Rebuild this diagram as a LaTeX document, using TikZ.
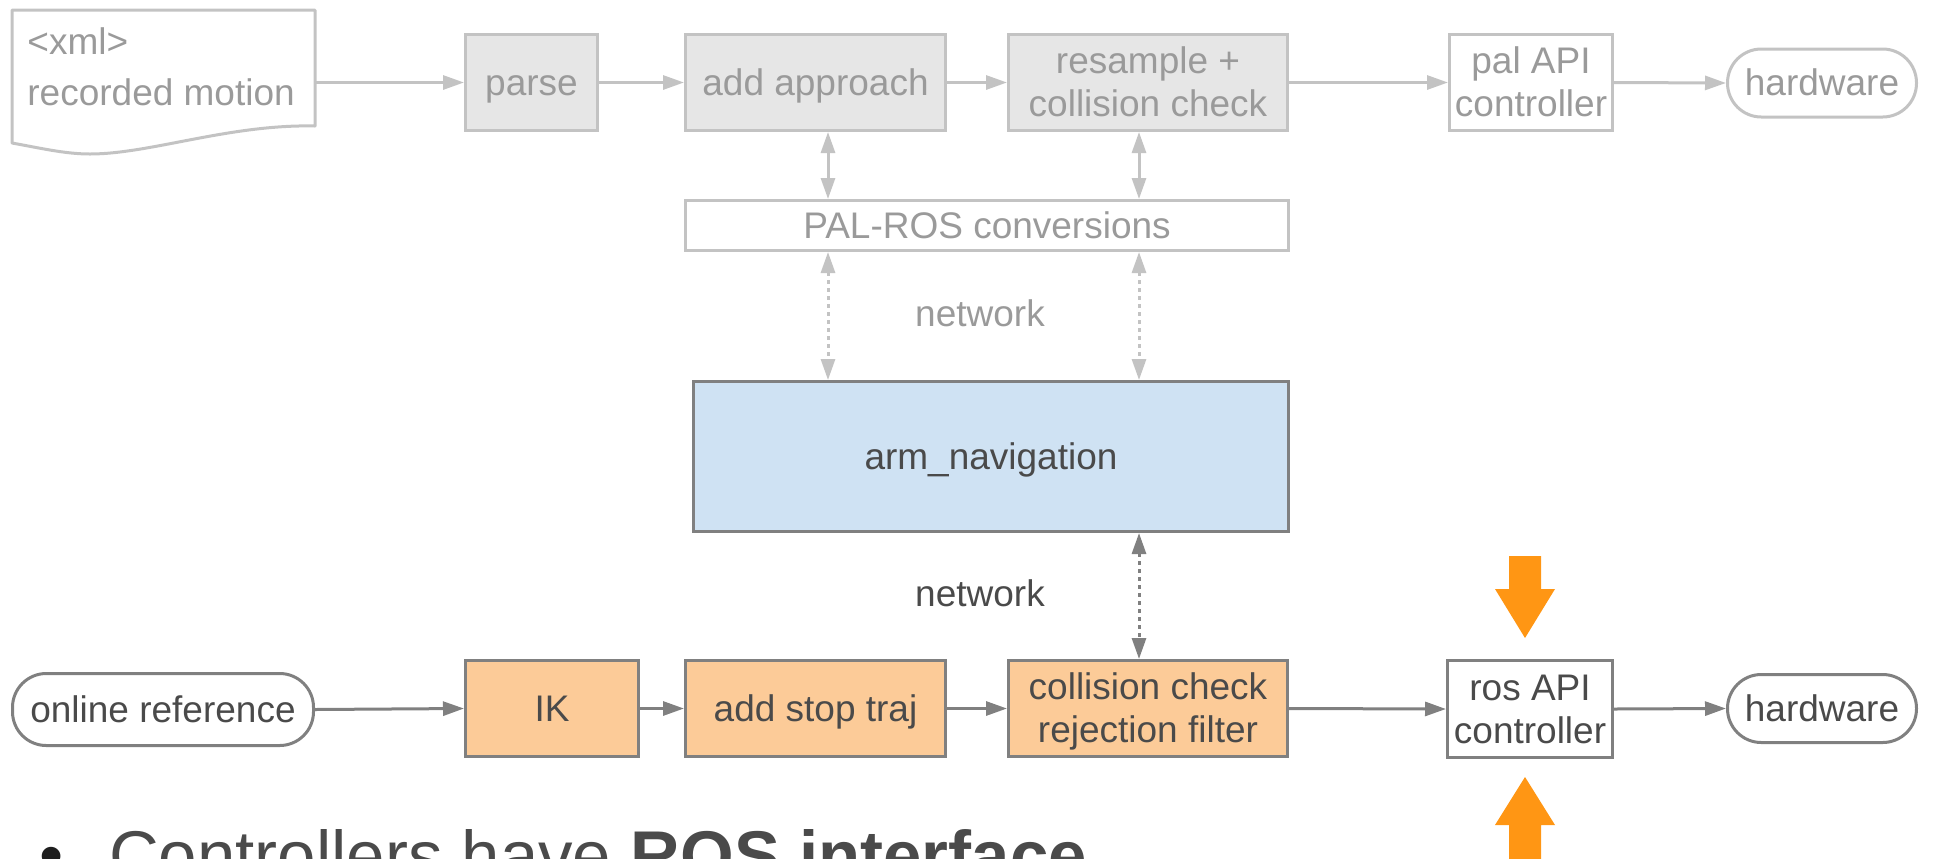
\documentclass[tikz,border=0pt]{standalone}
\usepackage{fontspec}
\setmainfont{Liberation Sans}
\usetikzlibrary{arrows.meta}
\definecolor{lline}{HTML}{C3C3C3}
\definecolor{lfill}{HTML}{E6E6E6}
\definecolor{ltext}{HTML}{9A9A9A}
\definecolor{dline}{HTML}{808080}
\definecolor{dtext}{HTML}{4A4A4A}
\definecolor{bluefill}{HTML}{CFE2F3}
\definecolor{orfill}{HTML}{FCCB98}
\definecolor{orarrow}{HTML}{FF9614}
\newcommand\lblfont{\fontsize{18.5pt}{21.5pt}\selectfont}
\newcommand\lblstrut{\rule[-0.212em]{0pt}{1.117em}}
\begin{document}
\begin{tikzpicture}[x=0.5pt,y=-0.5pt,
  Tri/.tip={Triangle[length=10.5pt,width=7pt]},
  box/.style={draw, rectangle, line width=1.5pt, inner sep=0pt, align=center, font=\lblfont,
              execute at begin node=\lblstrut, execute at end node=\lblstrut},
  topbox/.style={box, draw=lline, fill=lfill, text=ltext},
  topwhite/.style={box, draw=lline, fill=white, text=ltext},
  botbox/.style={box, draw=dline, fill=orfill, text=dtext},
  botwhite/.style={box, draw=dline, fill=white, text=dtext},
  pill/.style={rounded corners=16.9pt},
  lconn/.style={color=lline, line width=1.5pt, -Tri},
  dconn/.style={color=dline, line width=1.5pt, -Tri},
  dotted2/.style={dash pattern=on 2pt off 2pt},
  lbl/.style={inner sep=0pt, font=\lblfont}]
\useasboundingbox (0,0) rectangle (1933,858);
\clip (0,0) rectangle (1933,858);

% ---------- top row ----------
\draw[lline, line width=1.5pt, line join=round]
  (12,10) -- (315,10) -- (315,126)
  .. controls (230,124) and (150,154) .. (90,154)
  .. controls (65,154) and (40,148) .. (12,143) -- cycle;
\node[lbl, anchor=west, align=left, text=ltext,
      font=\fontsize{18.5pt}{25.5pt}\selectfont] (doctext) at (27,67) {<xml>\\recorded motion};
\coordinate (docR) at (315,82.5);

\node[topbox, minimum width=66pt, minimum height=48pt] (parse) at (531.5,82.5) {parse};
\node[topbox, minimum width=130pt, minimum height=48pt] (appr) at (815.5,82.5) {add approach};
\node[topbox, minimum width=139.5pt, minimum height=48pt] (resamp) at (1148,82.5) {\lblstrut resample +\\collision check};
\node[topwhite, minimum width=81.5pt, minimum height=48pt] (palapi) at (1531,82.5) {\lblstrut pal API\\controller};
\node[topwhite, pill, minimum width=94.5pt, minimum height=34pt] (hwtop) at (1822,83) {hardware};

\node[topwhite, minimum width=301.5pt, minimum height=25pt] (palros) at (987,225.5) {PAL-ROS conversions};
\node[lbl, text=ltext] (net1) at (980,313) {network};

\node[box, draw=dline, fill=bluefill, text=dtext, minimum width=297.5pt, minimum height=75pt] (arm) at (991,456.5) {arm\_navigation};
\node[lbl, text=dtext] (net2) at (980,593) {network};

% ---------- bottom row ----------
\node[botwhite, pill, minimum width=150.5pt, minimum height=36pt] (online) at (163,709.5) {online reference};
\node[botbox, minimum width=86.5pt, minimum height=48pt] (ik) at (552,708.5) {IK};
\node[botbox, minimum width=130pt, minimum height=48pt] (stop) at (815.5,708.5) {add stop traj};
\node[botbox, minimum width=139.5pt, minimum height=48pt] (coll) at (1148,708.5) {\lblstrut collision check\\rejection filter};
\node[botwhite, minimum width=82.5pt, minimum height=48.5pt] (ros) at (1530,709) {\lblstrut ros API\\controller};
\node[botwhite, pill, minimum width=94.5pt, minimum height=34pt] (hwbot) at (1822,708.5) {hardware};

% ---------- connectors ----------
\coordinate (xa) at (828,0);
\coordinate (xb) at (1139,0);
\draw[lconn] (docR) -- (parse.west);
\draw[lconn] (parse.east) -- (appr.west);
\draw[lconn] (appr.east) -- (resamp.west);
\draw[lconn] (resamp.east) -- (palapi.west);
\draw[lconn] (palapi.east) -- (hwtop.west);
\draw[lconn, Tri-Tri] (appr.south -| xa) -- (palros.north -| xa);
\draw[lconn, Tri-Tri] (resamp.south -| xb) -- (palros.north -| xb);
\draw[lconn, Tri-Tri, dotted2] (palros.south -| xa) -- (arm.north -| xa);
\draw[lconn, Tri-Tri, dotted2] (palros.south -| xb) -- (arm.north -| xb);
\draw[dconn, Tri-Tri, dotted2] (arm.south -| xb) -- (coll.north -| xb);

\draw[dconn] (online.east) -- (ik.west);
\draw[dconn] (ik.east) -- (stop.west);
\draw[dconn] (stop.east) -- (coll.west);
\draw[dconn] (coll.east) -- (ros.west);
\draw[dconn] (ros.east) -- (hwbot.west);

% ---------- orange block arrows ----------
\fill[orarrow] (1509,556) -- (1541,556) -- (1541,589) -- (1555,589) -- (1525,638)
  -- (1495,589) -- (1509,589) -- cycle;
\fill[orarrow] (1525,777) -- (1555,825) -- (1541,825) -- (1541,880) -- (1509,880)
  -- (1509,825) -- (1495,825) -- cycle;

% ---------- bullet text ----------
\node[anchor=base west, inner sep=0pt, text=black!88,
      font=\fontsize{34.5pt}{40pt}\selectfont] (bul) at (39.5,879) {\textbullet};
\node[anchor=base west, inner sep=0pt, text=dtext,
      font=\fontsize{34.5pt}{40pt}\selectfont] (ctrl) at (108.6,879) {Controllers have \textbf{ROS interface}};
\end{tikzpicture}
\end{document}
